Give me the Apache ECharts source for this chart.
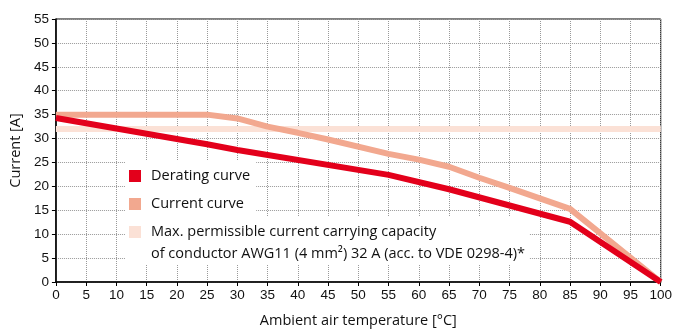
<!DOCTYPE html>
<html>
<head>
<meta charset="utf-8">
<script src="https://cdn.jsdelivr.net/npm/echarts@6/dist/echarts.min.js"></script>
<style>
html, body { margin: 0; padding: 0; background: #fff; }
#chart { width: 675px; height: 333px; }
</style>
</head>
<body>
<div id="chart"></div>
<script>
// derating curve (temperature °C, current A)
const deratingTemp = [0, 25, 30, 55, 65, 75, 85, 100];
const deratingCurrent = [34.3, 28.8, 27.6, 22.4, 19.4, 16.0, 12.6, 0];

// current curve
const currentTemp = [0, 25, 30, 35, 40, 45, 55, 60, 65, 70, 75, 80, 85, 100];
const currentValues = [35, 35, 34.2, 32.5, 31.2, 29.8, 26.8, 25.6, 24.1, 21.8, 19.7, 17.5, 15.3, 0];

// max permissible conductor current
const maxTemp = [0, 100];
const maxValues = [32, 32];

const names = [
	'Derating curve',
	'Current curve',
	'Max. permissible current carrying capacity\nof conductor AWG11 (4 mm²) 32 A (acc. to VDE 0298-4)*'
];

function pairs(xs, ys) {
	return xs.map((x, i) => [x, ys[i]]);
}

var chartDom = document.getElementById('chart');
var myChart = echarts.init(chartDom);

var legendText = {
	fontFamily: 'Open Sans',
	fontSize: 14.5,
	color: '#111',
	lineHeight: 22
};

// square icon with empty room on the right (and below for the 2-line entry)
var iconShort = 'path://M0,0H12V12H0Z M17,0L17,0.01';
var iconTall = 'path://M0,0H12V12H0Z M17,34L17,33.99';

var option = {
	animation: false,
	grid: {
		left: 52,
		right: 8,
		top: 19,
		bottom: 48,
		show: true,
		borderColor: '#000',
		borderWidth: 1
	},
	legend: [
		{
			data: [names[0], names[1]],
			orient: 'vertical',
			left: 125,
			top: 161,
			icon: iconShort,
			itemWidth: 17,
			itemHeight: 12,
			itemGap: 6,
			padding: [4, 6, 4, 4],
			backgroundColor: '#fff',
			itemStyle: { borderWidth: 0 },
			textStyle: legendText
		},
		{
			data: [names[2]],
			orient: 'vertical',
			left: 125,
			top: 217,
			icon: iconTall,
			itemWidth: 17,
			itemHeight: 34,
			padding: [4, 4, 0, 4],
			backgroundColor: '#fff',
			itemStyle: { borderWidth: 0 },
			textStyle: legendText
		}
	],
	xAxis: {
		type: 'value',
		min: 0,
		max: 100,
		interval: 5,
		name: 'Ambient air temperature [°C]',
		nameLocation: 'middle',
		nameGap: 31,
		nameTextStyle: { fontFamily: 'Open Sans', fontSize: 14.5, color: '#111' },
		axisLine: { lineStyle: { color: '#000', width: 1.5 } },
		axisTick: { show: true, length: 4, lineStyle: { color: '#000' } },
		axisLabel: { fontFamily: 'Liberation Sans', fontSize: 13.5, color: '#111', margin: 6 },
		splitLine: { show: true, lineStyle: { color: '#999', type: [1, 1], width: 1 } }
	},
	yAxis: {
		type: 'value',
		min: 0,
		max: 55,
		interval: 5,
		name: 'Current [A]',
		nameLocation: 'middle',
		nameGap: 31,
		nameTextStyle: { fontFamily: 'Open Sans', fontSize: 14.5, color: '#111' },
		axisLine: { show: true, lineStyle: { color: '#000', width: 1.5 } },
		axisTick: { show: true, length: 4, lineStyle: { color: '#000' } },
		axisLabel: { fontFamily: 'Liberation Sans', fontSize: 13.5, color: '#111', margin: 7 },
		splitLine: { show: true, lineStyle: { color: '#999', type: [1, 1], width: 1 } }
	},
	series: [
		{
			name: names[2],
			type: 'line',
			data: pairs(maxTemp, maxValues),
			showSymbol: false,
			color: '#fbe1d6',
			lineStyle: { width: 6, color: '#fbe1d6' },
			z: 1
		},
		{
			name: names[1],
			type: 'line',
			data: pairs(currentTemp, currentValues),
			showSymbol: false,
			color: '#f2a88f',
			lineStyle: { width: 6, color: '#f2a88f' },
			z: 2
		},
		{
			name: names[0],
			type: 'line',
			data: pairs(deratingTemp, deratingCurrent),
			showSymbol: false,
			color: '#e3001b',
			lineStyle: { width: 6, color: '#e3001b' },
			z: 3
		}
	]
};

option && myChart.setOption(option);
</script>
</body>
</html>
